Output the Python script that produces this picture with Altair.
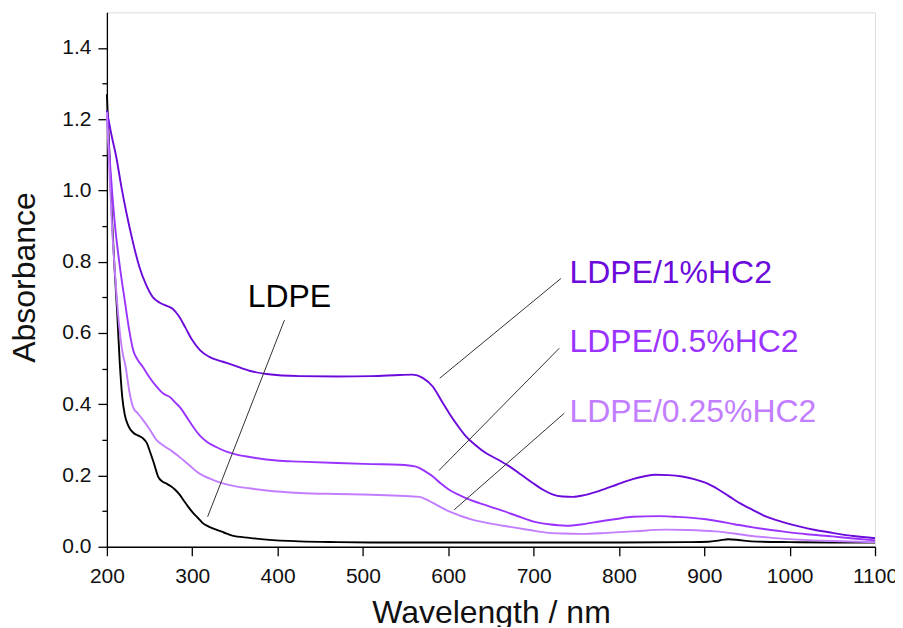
import altair as alt
import pandas as pd

# ---- data ----
w_ldpe = [200, 203, 206, 209, 212, 215, 218, 221, 225, 231, 237, 242, 247, 250, 255, 260, 265, 270, 275, 280, 285, 290, 296, 301, 307, 312, 320, 328, 337, 347, 367, 387, 426, 470, 520, 600, 700, 800, 880, 905, 918, 928, 940, 955, 1000, 1050, 1100]
a_ldpe = [1.27, 1.10, 0.92, 0.78, 0.66, 0.52, 0.42, 0.37, 0.34, 0.32, 0.312, 0.305, 0.29, 0.27, 0.235, 0.197, 0.183, 0.177, 0.17, 0.16, 0.147, 0.13, 0.11, 0.095, 0.08, 0.067, 0.056, 0.048, 0.04, 0.031, 0.025, 0.02, 0.015, 0.013, 0.012, 0.012, 0.012, 0.012, 0.013, 0.014, 0.018, 0.021, 0.019, 0.015, 0.013, 0.012, 0.012]

w_1 = [200, 205, 211, 217, 223, 230, 238, 246, 254, 262, 270, 277, 285, 292, 300, 309, 320, 335, 348, 367, 387, 426, 470, 510, 543, 558, 570, 582, 592, 601, 611, 621, 632, 644, 658, 672, 685, 699, 711, 722, 734, 746, 758, 769, 783, 797, 816, 830, 843, 858, 874, 888, 902, 917, 930, 941, 957, 972, 991, 1011, 1030, 1050, 1075, 1100]
a_1 = [1.225, 1.16, 1.094, 1.01, 0.936, 0.86, 0.786, 0.735, 0.70, 0.685, 0.676, 0.668, 0.645, 0.615, 0.58, 0.552, 0.533, 0.52, 0.51, 0.494, 0.485, 0.479, 0.478, 0.479, 0.482, 0.483, 0.474, 0.449, 0.41, 0.375, 0.34, 0.309, 0.285, 0.263, 0.245, 0.225, 0.203, 0.179, 0.16, 0.147, 0.141, 0.140, 0.144, 0.151, 0.162, 0.174, 0.190, 0.198, 0.202, 0.201, 0.197, 0.19, 0.179, 0.16, 0.14, 0.123, 0.103, 0.085, 0.07, 0.057, 0.047, 0.039, 0.03, 0.024]

w_05 = [200, 203, 206, 210, 215, 221, 226, 231, 236, 242, 250, 258, 266, 274, 280, 285, 293, 301, 309, 317, 328, 340, 353, 367, 399, 426, 470, 510, 543, 562, 572, 582, 591, 601, 613, 625, 642, 660, 680, 699, 718, 738, 757, 777, 797, 816, 847, 866, 886, 902, 918, 935, 953, 972, 991, 1020, 1050, 1075, 1100]
a_05 = [1.22, 1.10, 1.00, 0.89, 0.79, 0.69, 0.61, 0.55, 0.525, 0.505, 0.475, 0.45, 0.43, 0.42, 0.405, 0.393, 0.366, 0.337, 0.312, 0.295, 0.28, 0.267, 0.258, 0.252, 0.242, 0.239, 0.235, 0.232, 0.230, 0.225, 0.213, 0.197, 0.178, 0.16, 0.145, 0.132, 0.118, 0.104, 0.087, 0.071, 0.063, 0.059, 0.063, 0.071, 0.078, 0.084, 0.086, 0.084, 0.081, 0.077, 0.071, 0.063, 0.056, 0.049, 0.043, 0.035, 0.029, 0.023, 0.018]

w_025 = [200, 203, 206, 210, 214, 218, 222, 226, 231, 236, 242, 250, 258, 267, 277, 283, 289, 297, 305, 314, 324, 336, 348, 367, 387, 426, 470, 510, 543, 566, 574, 582, 591, 601, 614, 628, 650, 672, 695, 718, 737, 757, 786, 816, 855, 880, 913, 935, 953, 980, 1010, 1050, 1100]
a_025 = [1.22, 1.05, 0.90, 0.75, 0.63, 0.55, 0.505, 0.44, 0.39, 0.375, 0.357, 0.33, 0.30, 0.283, 0.267, 0.256, 0.244, 0.228, 0.211, 0.198, 0.188, 0.178, 0.171, 0.164, 0.158, 0.151, 0.148, 0.146, 0.143, 0.14, 0.133, 0.123, 0.111, 0.099, 0.087, 0.076, 0.065, 0.056, 0.047, 0.039, 0.037, 0.036, 0.039, 0.043, 0.048, 0.047, 0.043, 0.037, 0.031, 0.025, 0.02, 0.016, 0.013]

series_names = ["LDPE", "LDPE/1%HC2", "LDPE/0.5%HC2", "LDPE/0.25%HC2"]
series_colors = ["#000000", "#6B0ADB", "#9B33FF", "#C27EFF"]

# annotation labels (text, anchor wavelength, anchor absorbance)
label_text = ["LDPE", "LDPE/1%HC2", "LDPE/0.5%HC2", "LDPE/0.25%HC2"]
label_w = [365, 742, 742, 742]
label_a = [0.673, 0.74, 0.547, 0.351]

# leader lines (start and end points)
lead_w1 = [408, 732, 730, 736]
lead_a1 = [0.636, 0.753, 0.557, 0.375]
lead_w2 = [318, 590, 589, 607]
lead_a2 = [0.084, 0.473, 0.214, 0.104]

y_major = [0.0, 0.2, 0.4, 0.6, 0.8, 1.0, 1.2, 1.4]
y_minor = [0.1, 0.3, 0.5, 0.7, 0.9, 1.1, 1.3]
x_ticks = [200, 300, 400, 500, 600, 700, 800, 900, 1000, 1100]

# ---- build tables ----
rows = []
for name, ws, as_ in zip(series_names, [w_ldpe, w_1, w_05, w_025], [a_ldpe, a_1, a_05, a_025]):
    for w, a in zip(ws, as_):
        rows.append({"series": name, "w": w, "a": a})
df = pd.DataFrame(rows)

lab = pd.DataFrame({"text": label_text, "w": label_w, "a": label_a, "series": series_names})
lead = pd.DataFrame({"w": lead_w1, "a": lead_a1, "w2": lead_w2, "a2": lead_a2})

FONT = "Liberation Sans"
xscale = alt.Scale(domain=[200, 1100], nice=False, zero=False)
yscale = alt.Scale(domain=[0, 1.5], nice=False, zero=False)
cscale = alt.Scale(domain=series_names, range=series_colors)

xaxis = alt.Axis(values=x_ticks, format="d", title="Wavelength / nm", grid=False, tickSize=9,
                 labelPadding=10, labelFontSize=21, titleFontSize=32, labelFont=FONT,
                 titleFont=FONT, labelColor="#111", titleColor="#111", domainColor="#000",
                 tickColor="#000", domainWidth=1.3, tickWidth=1.3, titleFontWeight="normal",
                 titleBaseline="alphabetic", titleY=76, titleX=384.5, labelFlush=False)
yaxis = alt.Axis(values=y_major, format=".1f", title="Absorbance", grid=False, tickSize=9,
                 labelPadding=7, labelFontSize=21, titleFontSize=32, labelFont=FONT,
                 titleFont=FONT, labelColor="#111", titleColor="#111", domainColor="#000",
                 tickColor="#000", domainWidth=1.3, tickWidth=1.3, titleFontWeight="normal",
                 titleBaseline="alphabetic", titleAngle=270, titleX=-72, titleY=265,
                 titleAlign="center", labelFlush=False)
yaxis_minor = alt.Axis(values=y_minor, labels=False, title=None, grid=False, tickSize=5,
                       domain=False, tickColor="#000", tickWidth=1.3, orient="left")

lines = alt.Chart(df).mark_line(strokeWidth=1.9, interpolate="monotone").encode(
    x=alt.X("w:Q", scale=xscale, axis=xaxis),
    y=alt.Y("a:Q", scale=yscale, axis=yaxis),
    color=alt.Color("series:N", scale=cscale, legend=None),
    detail="series:N",
)

leaders = alt.Chart(lead).mark_rule(strokeWidth=1, color="#333").encode(
    x=alt.X("w:Q", scale=xscale),
    y=alt.Y("a:Q", scale=yscale, axis=None),
    x2="w2:Q",
    y2="a2:Q",
)

labels = alt.Chart(lab).mark_text(fontSize=32, font=FONT, align="left",
                                  baseline="alphabetic").encode(
    x=alt.X("w:Q", scale=xscale),
    y=alt.Y("a:Q", scale=yscale, axis=yaxis_minor),
    text="text:N",
    color=alt.Color("series:N", scale=cscale, legend=None),
)

chart = alt.layer(lines, leaders, labels).resolve_axis(y="independent").properties(
    width=769, height=535,
    autosize=alt.AutoSizeParams(type="none"),
    padding={"left": 99, "top": 4, "right": 20, "bottom": 80},
).configure_view(stroke="#000", strokeWidth=1.3).configure(background="white")

chart.save("out.html", embed_options={"renderer": "svg", "actions": False})
